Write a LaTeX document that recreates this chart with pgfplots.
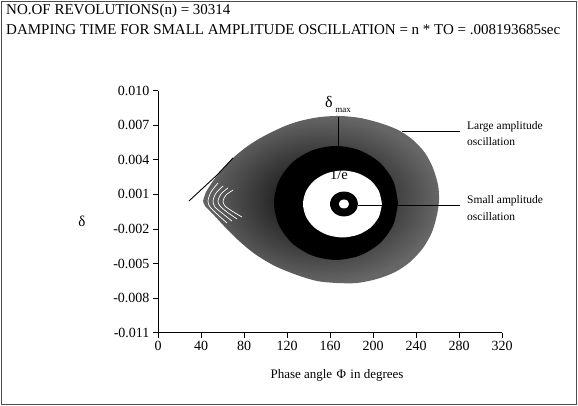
\documentclass[border=0pt]{standalone}
\usepackage{pgfplots}
\pgfplotsset{compat=1.18}
\usepackage{fontspec}
\setmainfont{Liberation Serif}
\begin{document}
\begin{tikzpicture}[x=1pt,y=1pt]
\useasboundingbox (0,0) rectangle (578,-406);
\draw[black!70, line width=1pt] (1.5,-1.5) rectangle (576.5,-404.5);
\node[anchor=base west, inner sep=0, font=\fontsize{15}{17}\selectfont] at (6,-15) {NO.OF REVOLUTIONS(n) = 30314};
\node[anchor=base west, inner sep=0, font=\fontsize{15}{17}\selectfont] at (6,-35) {DAMPING TIME FOR SMALL AMPLITUDE OSCILLATION = n * TO = .008193685sec};

\begin{axis}[
  at={(158pt,-332.7pt)}, anchor=south west,
  width=344pt, height=242.2pt, scale only axis,
  xmin=0, xmax=320, ymin=-0.011, ymax=0.010,
  axis lines=left, axis line style={-, line width=0.8pt},
  scaled y ticks=false,
  xtick={0,40,80,120,160,200,240,280,320},
  xticklabels={0,40,80,120,160,200,240,280,320},
  ytick={-0.011,-0.008,-0.005,-0.002,0.001,0.004,0.007,0.010},
  yticklabels={-0.011,-0.008,-0.005,-0.002,0.001,0.004,0.007,0.010},
  tick align=outside, major tick length=5pt,
  tick style={black, line width=0.8pt},
  ticklabel style={font=\fontsize{14}{16}\selectfont},
  clip=false,
]
% outer envelope of the large-amplitude spiral
\addplot[draw=none, inner color=black, outer color=black!60, smooth] coordinates {
 (41.9,0.00042) (44.7,0.00120) (51.2,0.00215) (59.5,0.00311) (69.8,0.00415)
 (80.9,0.00501) (92.1,0.00571) (104.2,0.00632) (118.1,0.00692) (132.1,0.00736)
 (150.7,0.00770) (169.3,0.00779) (187.9,0.00762) (206.5,0.00718) (223.3,0.00658)
 (237.2,0.00571) (248.4,0.00458) (255.8,0.00328) (260.5,0.00181) (261.4,0.00051)
 (259.5,-0.00080) (254.9,-0.00227) (246.5,-0.00366) (234.4,-0.00487) (220.5,-0.00574)
 (203.7,-0.00634) (185.1,-0.00669) (166.5,-0.00669) (147.9,-0.00652) (129.3,-0.00600)
 (108.8,-0.00522) (90.2,-0.00418) (74.4,-0.00296) (61.4,-0.00175) (50.2,-0.00062)
 (43.7,-0.00001) (41.9,0.00042)};
% solid band
\addplot[draw=none, fill=black, smooth] coordinates {
 (223.3,0.00025) (218.9,0.00214) (206.4,0.00374) (187.7,0.00481) (165.6,0.00519)
 (143.5,0.00481) (124.8,0.00374) (112.3,0.00214) (107.9,0.00025) (112.3,-0.00164)
 (124.8,-0.00324) (143.5,-0.00431) (165.6,-0.00469) (187.7,-0.00431) (206.4,-0.00324)
 (218.9,-0.00164) (223.3,0.00025)};
% white 1/e zone
\addplot[draw=none, fill=white, smooth] coordinates {
 (208.3,0.00016) (205.5,0.00127) (197.6,0.00221) (185.6,0.00284) (171.6,0.00306)
 (157.6,0.00284) (145.6,0.00221) (137.7,0.00127) (134.9,0.00016) (137.7,-0.00095)
 (145.6,-0.00189) (157.6,-0.00252) (171.6,-0.00274) (185.6,-0.00252) (197.6,-0.00189)
 (205.5,-0.00095) (208.3,0.00016)};
% small amplitude ring
\addplot[draw=none, fill=black, smooth] coordinates {
 (186.0,0.00016) (185.0,0.00057) (182.2,0.00092) (178.0,0.00116) (173.0,0.00124)
 (168.0,0.00116) (163.8,0.00092) (161.0,0.00057) (160.0,0.00016) (161.0,-0.00025)
 (163.8,-0.00060) (168.0,-0.00084) (173.0,-0.00092) (178.0,-0.00084) (182.2,-0.00060)
 (185.0,-0.00025) (186.0,0.00016)};
\addplot[draw=none, fill=white, smooth] coordinates {
 (177.65,0.00016) (176.3,0.00044) (173.0,0.00055) (169.7,0.00044) (168.35,0.00016)
 (169.7,-0.00012) (173.0,-0.00023) (176.3,-0.00012) (177.65,0.00016)};
% separate trajectories near the tip
\addplot[white, line width=0.7pt, smooth] coordinates {
 (55.8,0.00198) (49.3,0.00120) (46.5,0.00042) (48.4,-0.00010) (54.9,-0.00071) (64.2,-0.00149)};
\addplot[white, line width=0.7pt, smooth] coordinates {
 (60.5,0.00172) (54.0,0.00111) (51.2,0.00042) (53.0,-0.00010) (59.5,-0.00062) (68.8,-0.00132)};
\addplot[white, line width=0.7pt, smooth] coordinates {
 (65.1,0.00155) (58.6,0.00103) (55.8,0.00042) (57.7,-0.00001) (64.2,-0.00054) (73.5,-0.00114)};
\addplot[white, line width=0.7pt, smooth] coordinates {
 (69.8,0.00137) (63.3,0.00094) (60.5,0.00042) (62.3,-0.00001) (68.8,-0.00045) (78.1,-0.00097)};
% outermost trajectory
\addplot[black, line width=0.9pt] coordinates {(28.8,0.00042) (54.9,0.00267) (69.8,0.00415)};
\end{axis}

% annotations
\node[font=\fontsize{16}{16}\selectfont, inner sep=0] at (329,-102) {δ};
\node[font=\fontsize{9}{9}\selectfont, inner sep=0] at (343,-110) {max};
\draw[black, line width=0.6pt] (338,-117) -- (338,-152);
\node[font=\fontsize{14.5}{15}\selectfont, inner sep=0] at (339,-175) {1/e};
\draw[black, line width=0.8pt] (402,-131.5) -- (460,-131.5);
\draw[black, line width=0.8pt] (358,-205.5) -- (460,-205.5);
\node[anchor=base west, inner sep=0, font=\fontsize{11.5}{13}\selectfont] at (467,-130) {Large amplitude};
\node[anchor=base west, inner sep=0, font=\fontsize{11.5}{13}\selectfont] at (467,-146) {oscillation};
\node[anchor=base west, inner sep=0, font=\fontsize{11.5}{13}\selectfont] at (467,-204) {Small amplitude};
\node[anchor=base west, inner sep=0, font=\fontsize{11.5}{13}\selectfont] at (467,-221) {oscillation};
\node[font=\fontsize{15}{15}\selectfont, inner sep=0] at (82,-221) {δ};
\node[anchor=base, inner sep=0, font=\fontsize{13}{15}\selectfont] at (337,-378) {Phase angle\,\,Φ\,\,in degrees};
\end{tikzpicture}
\end{document}
